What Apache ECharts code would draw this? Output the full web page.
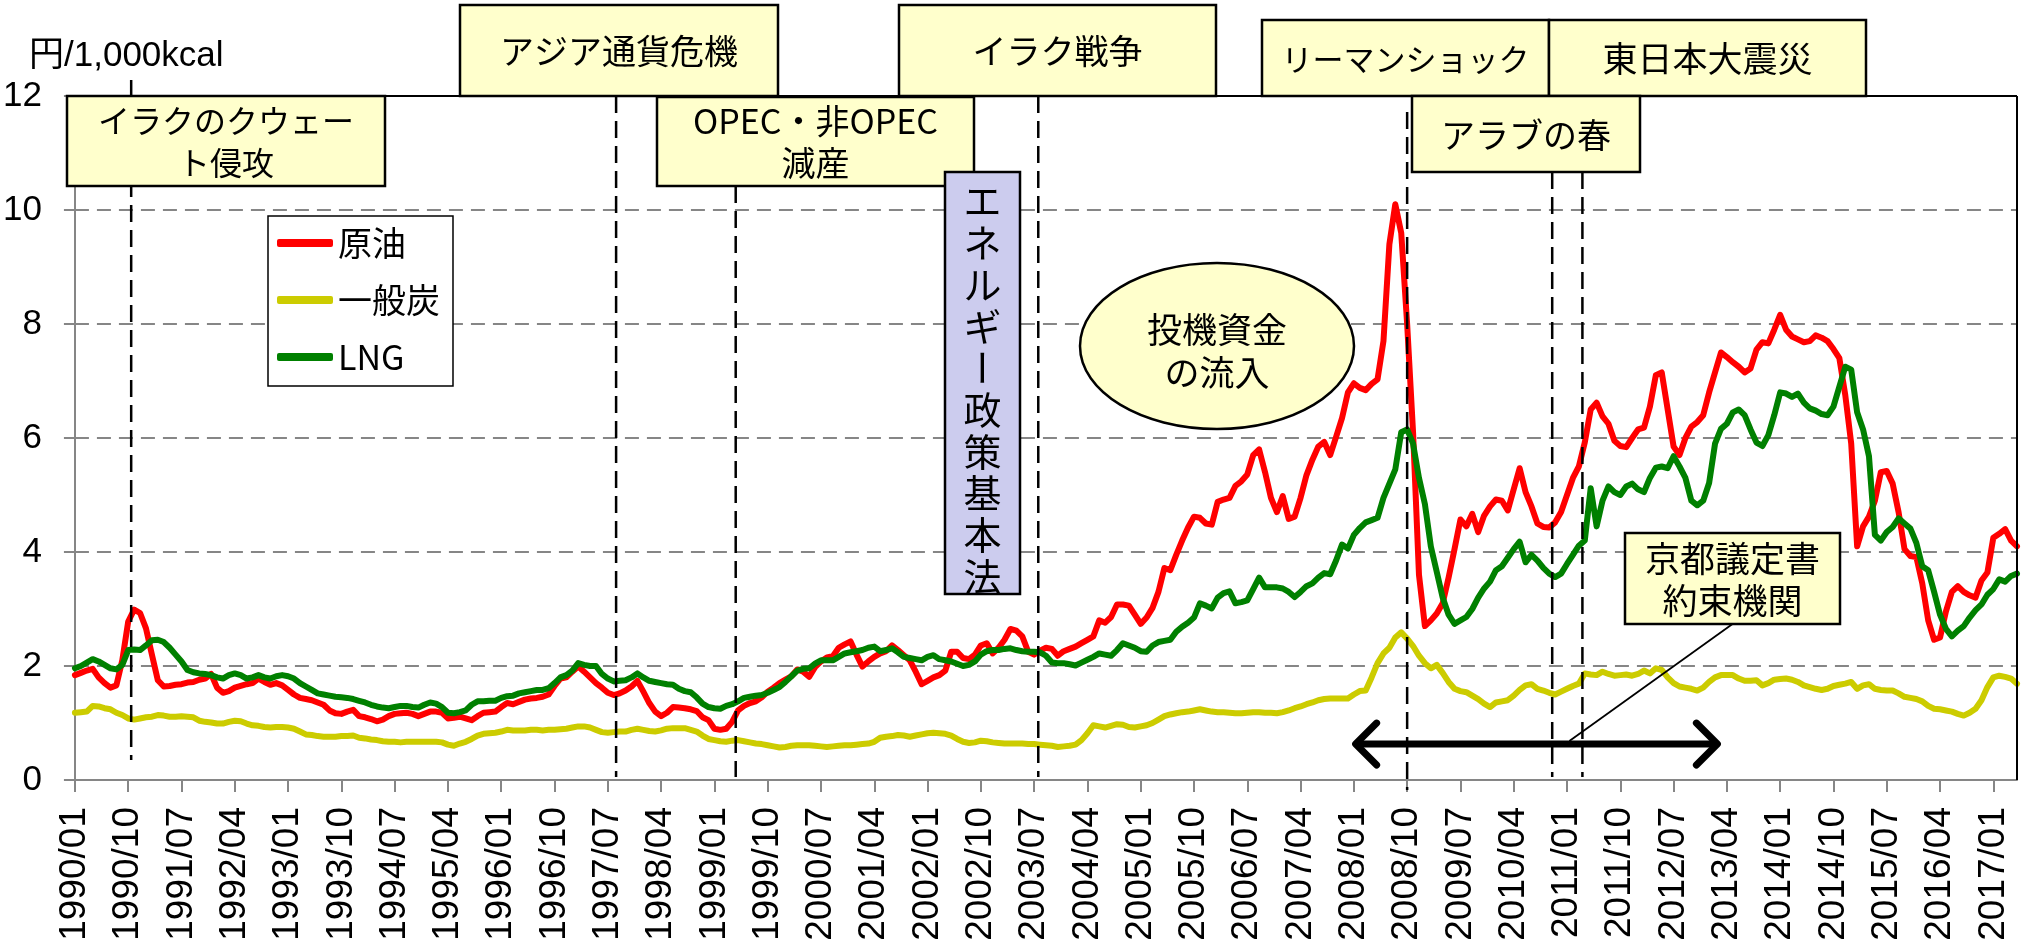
<!DOCTYPE html>
<html><head><meta charset="utf-8">
<script src="https://cdn.jsdelivr.net/npm/echarts@6/dist/echarts.min.js"></script>
<style>html,body{margin:0;padding:0;background:#fff}#c{width:2028px;height:952px}</style>
</head><body><div id="c"></div>
<script>
// ---- categories (monthly, 1990/01 .. 2017/05) ----
const startYear = 1990;
const monthCount = 329;
const months = [];
for (let k = 0; k < monthCount; k++) {
  const y = startYear + Math.floor(k / 12), m = k % 12 + 1;
  months.push(y + '/' + (m < 10 ? '0' + m : '' + m));
}
const seriesNames = ['原油', '一般炭', 'LNG'];
const axisTitle = '円/1,000kcal';
const yMin = 0, yMax = 12, yStep = 2;

// ---- series values (円/1,000kcal) ----
const crude = [
1.84,1.88,1.92,1.95,1.80,1.70,1.62,1.66,2.10,2.78,2.99,2.93,
2.66,2.20,1.75,1.64,1.65,1.67,1.68,1.71,1.72,1.76,1.78,1.86,
1.62,1.53,1.56,1.62,1.65,1.68,1.70,1.78,1.72,1.67,1.70,1.66,
1.58,1.50,1.44,1.42,1.40,1.36,1.32,1.22,1.17,1.16,1.20,1.23,
1.12,1.10,1.07,1.03,1.06,1.12,1.16,1.17,1.18,1.16,1.12,1.16,
1.20,1.20,1.18,1.08,1.09,1.11,1.08,1.05,1.12,1.18,1.19,1.20,
1.28,1.35,1.33,1.37,1.41,1.43,1.44,1.46,1.50,1.65,1.78,1.80,
1.90,1.99,1.90,1.80,1.70,1.62,1.53,1.49,1.52,1.57,1.64,1.74,
1.55,1.35,1.20,1.12,1.18,1.28,1.27,1.26,1.24,1.21,1.10,1.05,
0.90,0.88,0.90,1.02,1.22,1.30,1.35,1.38,1.45,1.55,1.62,1.70,
1.76,1.82,1.94,1.90,1.81,1.98,2.08,2.15,2.17,2.32,2.38,2.43,
2.20,1.99,2.08,2.16,2.22,2.26,2.36,2.28,2.19,2.10,1.90,1.68,
1.74,1.80,1.84,1.92,2.25,2.25,2.14,2.12,2.20,2.36,2.40,2.22,
2.32,2.46,2.65,2.62,2.52,2.25,2.20,2.27,2.32,2.30,2.18,2.26,
2.30,2.34,2.40,2.46,2.52,2.80,2.76,2.86,3.08,3.08,3.06,2.90,
2.74,2.85,3.02,3.30,3.72,3.68,3.95,4.20,4.43,4.62,4.60,4.50,
4.48,4.88,4.92,4.95,5.16,5.24,5.36,5.70,5.80,5.40,4.95,4.70,
4.98,4.58,4.62,4.95,5.35,5.62,5.85,5.93,5.70,6.02,6.35,6.80,
6.96,6.88,6.84,6.95,7.03,7.70,9.40,10.10,9.60,8.00,6.10,3.60,
2.70,2.80,2.92,3.10,3.55,4.05,4.57,4.45,4.67,4.35,4.64,4.80,
4.92,4.90,4.73,5.10,5.47,5.05,4.80,4.50,4.44,4.43,4.52,4.70,
5.00,5.30,5.50,5.92,6.50,6.62,6.38,6.25,5.95,5.86,5.84,6.00,
6.15,6.18,6.55,7.10,7.15,6.50,5.85,5.70,6.00,6.20,6.28,6.40,
6.80,7.15,7.50,7.42,7.33,7.25,7.15,7.22,7.55,7.68,7.66,7.90,
8.16,7.90,7.78,7.73,7.68,7.70,7.80,7.76,7.70,7.56,7.40,6.75,
5.90,4.10,4.45,4.62,4.90,5.40,5.42,5.20,4.70,4.05,3.93,3.91,
3.45,2.80,2.46,2.50,2.96,3.30,3.40,3.30,3.24,3.20,3.50,3.64,
4.25,4.32,4.40,4.20,4.10
];
const coal = [
1.18,1.19,1.20,1.30,1.29,1.26,1.24,1.18,1.14,1.08,1.06,1.08,
1.10,1.11,1.14,1.13,1.11,1.11,1.12,1.11,1.10,1.04,1.02,1.01,
0.99,0.99,1.02,1.04,1.03,0.99,0.96,0.95,0.93,0.92,0.93,0.93,
0.92,0.90,0.85,0.80,0.79,0.77,0.76,0.76,0.76,0.77,0.77,0.78,
0.74,0.73,0.71,0.70,0.68,0.67,0.67,0.66,0.67,0.67,0.67,0.67,
0.67,0.67,0.66,0.62,0.60,0.64,0.67,0.72,0.78,0.81,0.82,0.83,
0.85,0.88,0.87,0.87,0.87,0.88,0.88,0.87,0.88,0.88,0.89,0.90,
0.92,0.94,0.94,0.92,0.88,0.84,0.83,0.84,0.85,0.85,0.88,0.90,
0.88,0.86,0.85,0.87,0.90,0.91,0.91,0.91,0.88,0.85,0.78,0.72,
0.70,0.68,0.67,0.69,0.70,0.68,0.66,0.64,0.63,0.61,0.59,0.57,
0.58,0.60,0.61,0.61,0.61,0.60,0.59,0.58,0.59,0.60,0.61,0.61,
0.62,0.63,0.64,0.67,0.74,0.76,0.77,0.79,0.78,0.76,0.78,0.80,
0.82,0.83,0.82,0.81,0.78,0.72,0.67,0.65,0.66,0.69,0.68,0.66,
0.65,0.64,0.64,0.64,0.64,0.63,0.63,0.62,0.61,0.60,0.58,0.59,
0.60,0.62,0.70,0.82,0.96,0.94,0.92,0.95,0.98,0.97,0.93,0.92,
0.94,0.96,1.00,1.06,1.12,1.15,1.17,1.19,1.20,1.22,1.24,1.22,
1.20,1.19,1.19,1.18,1.17,1.17,1.18,1.19,1.19,1.18,1.18,1.17,
1.19,1.22,1.26,1.29,1.33,1.36,1.40,1.42,1.43,1.43,1.43,1.43,
1.50,1.56,1.57,1.80,2.05,2.22,2.32,2.50,2.59,2.48,2.35,2.18,
2.05,1.96,2.02,1.88,1.72,1.60,1.56,1.54,1.48,1.42,1.34,1.28,
1.36,1.38,1.40,1.48,1.58,1.66,1.68,1.60,1.57,1.53,1.50,1.55,
1.60,1.65,1.69,1.87,1.85,1.84,1.90,1.86,1.83,1.84,1.85,1.83,
1.86,1.92,1.87,1.96,1.93,1.80,1.70,1.64,1.62,1.60,1.57,1.62,
1.72,1.80,1.84,1.84,1.84,1.78,1.74,1.74,1.75,1.66,1.70,1.76,
1.77,1.78,1.76,1.72,1.66,1.63,1.60,1.58,1.60,1.65,1.67,1.69,
1.72,1.60,1.66,1.68,1.60,1.58,1.57,1.57,1.52,1.46,1.44,1.42,
1.38,1.30,1.25,1.24,1.22,1.20,1.16,1.13,1.18,1.25,1.40,1.63,
1.80,1.83,1.81,1.78,1.69
];
const lng = [
1.96,2.00,2.06,2.12,2.08,2.02,1.96,1.94,2.02,2.28,2.29,2.28,
2.36,2.45,2.46,2.42,2.32,2.20,2.08,1.93,1.89,1.87,1.86,1.84,
1.80,1.78,1.84,1.87,1.84,1.78,1.80,1.84,1.80,1.78,1.82,1.84,
1.82,1.78,1.70,1.64,1.58,1.52,1.50,1.48,1.46,1.45,1.44,1.42,
1.39,1.36,1.32,1.29,1.27,1.26,1.28,1.30,1.30,1.28,1.27,1.32,
1.36,1.34,1.28,1.18,1.17,1.19,1.22,1.32,1.38,1.38,1.39,1.39,
1.44,1.47,1.48,1.52,1.54,1.56,1.58,1.58,1.61,1.70,1.80,1.84,
1.92,2.05,2.02,2.00,2.00,1.86,1.78,1.73,1.74,1.75,1.80,1.87,
1.80,1.74,1.72,1.70,1.68,1.67,1.60,1.56,1.54,1.45,1.34,1.28,
1.26,1.25,1.30,1.33,1.38,1.44,1.46,1.48,1.49,1.53,1.58,1.63,
1.72,1.82,1.92,1.95,1.96,2.04,2.10,2.10,2.10,2.16,2.22,2.24,
2.26,2.28,2.32,2.34,2.26,2.28,2.31,2.24,2.16,2.14,2.12,2.10,
2.16,2.19,2.12,2.10,2.08,2.04,2.00,2.02,2.08,2.20,2.26,2.28,
2.28,2.30,2.31,2.28,2.26,2.25,2.25,2.24,2.18,2.06,2.05,2.05,
2.03,2.01,2.06,2.11,2.16,2.22,2.20,2.18,2.28,2.40,2.36,2.32,
2.26,2.25,2.36,2.42,2.44,2.46,2.60,2.69,2.76,2.85,3.10,3.06,
3.01,3.20,3.28,3.31,3.10,3.12,3.15,3.35,3.55,3.38,3.38,3.38,
3.36,3.30,3.21,3.30,3.40,3.45,3.55,3.63,3.61,3.85,4.13,4.06,
4.30,4.42,4.52,4.56,4.60,4.95,5.20,5.45,6.10,6.15,5.90,5.30,
4.84,4.10,3.65,3.20,2.90,2.74,2.80,2.86,3.00,3.20,3.36,3.48,
3.68,3.75,3.90,4.05,4.18,3.82,3.95,3.85,3.72,3.62,3.56,3.62,
3.79,3.95,4.11,4.20,5.12,4.45,4.90,5.15,5.05,5.00,5.15,5.20,
5.10,5.05,5.30,5.48,5.50,5.47,5.68,5.50,5.30,4.90,4.82,4.90,
5.21,5.90,6.16,6.25,6.45,6.50,6.40,6.15,5.92,5.86,6.05,6.40,
6.80,6.78,6.72,6.78,6.62,6.52,6.48,6.42,6.40,6.55,6.90,7.25,
7.20,6.45,6.15,5.68,4.30,4.20,4.35,4.44,4.59,4.50,4.41,4.16,
3.75,3.68,3.30,2.90,2.65,2.52,2.62,2.70,2.85,2.98,3.08,3.25,
3.35,3.52,3.48,3.58,3.62
];

// ---- annotations ----
const eventLines = [ // month index (fractional) + pixel extent
  {idx: 9.5,   top: 80,  bottom: 760},
  {idx: 91.4,  top: 96,  bottom: 777},
  {idx: 111.6, top: 186, bottom: 777},
  {idx: 162.7, top: 96,  bottom: 777},
  {idx: 225,   top: 112, bottom: 790},
  {idx: 249.5, top: 172, bottom: 777},
  {idx: 254.6, top: 172, bottom: 777}
];
const boxes = [
  {text: 'イラクのクウェー\nト侵攻', x: 67,   y: 96,  w: 318, h: 90, size: 32},
  {text: 'アジア通貨危機',           x: 460,  y: 5,   w: 318, h: 91, size: 34},
  {text: 'OPEC・非OPEC\n減産',       x: 657,  y: 97,  w: 317, h: 89, size: 34},
  {text: 'イラク戦争',               x: 899,  y: 5,   w: 317, h: 91, size: 34},
  {text: 'リーマンショック',         x: 1262, y: 20,  w: 287, h: 76, size: 31},
  {text: '東日本大震災',             x: 1549, y: 20,  w: 317, h: 76, size: 35},
  {text: 'アラブの春',               x: 1412, y: 96,  w: 228, h: 76, size: 34},
  {text: '京都議定書\n約束機関',     x: 1625, y: 533, w: 215, h: 91, size: 35}
];
const verticalLabel = 'エネルギー政策基本法';
const ellipseLabel = '投機資金\nの流入';
const kyoto = {fromIdx: 216.3, toIdx: 277.4, value: 0.63, calloutIdx: 252.4};

const FONT = '"Liberation Sans", Arial, "Noto Sans CJK JP", sans-serif';
const JFONT = '"Noto Sans CJK JP", "Liberation Sans", sans-serif';
const GRAY = '#868686';

const chart = echarts.init(document.getElementById('c'), null, {renderer: 'canvas'});
const colors = ['#ff0000', '#cccc00', '#008000'];
const data = [crude, coal, lng];

chart.setOption({
  animation: false,
  backgroundColor: '#fff',
  grid: {left: 71, right: 11, top: 96, bottom: 172, show: false},
  legend: {
    orient: 'vertical', left: 268, top: 216,
    padding: [9, 13, 11, 9], itemGap: 21, itemWidth: 56, itemHeight: 8,
    icon: 'roundRect',
    borderColor: '#000', borderWidth: 1.5, backgroundColor: '#fff',
    textStyle: {fontSize: 34, fontFamily: JFONT, color: '#000', lineHeight: 36},
    data: seriesNames
  },
  xAxis: {
    type: 'category', data: months, boundaryGap: false,
    axisLine: {lineStyle: {color: GRAY, width: 2}},
    axisTick: {interval: 8, length: 12, lineStyle: {color: GRAY, width: 2}},
    axisLabel: {interval: 8, rotate: 90, fontSize: 37, margin: 27, color: '#000',
                fontFamily: FONT},
    splitLine: {show: false}
  },
  yAxis: {
    type: 'value', min: yMin, max: yMax, interval: yStep,
    axisLine: {show: true, lineStyle: {color: GRAY, width: 2}},
    axisTick: {show: true, length: 11, lineStyle: {color: GRAY, width: 2}},
    axisLabel: {fontSize: 35, margin: 33, color: '#000', fontFamily: FONT},
    splitLine: {lineStyle: {type: [14, 8], color: GRAY, width: 2}}
  },
  series: seriesNames.map((n, k) => ({
    name: n, type: 'line', data: data[k], showSymbol: false, symbol: 'none',
    color: colors[k],
    lineStyle: {color: colors[k], width: 6, cap: 'round', join: 'round'},
    z: 2 + k
  }))
});

function xAt(idx) {
  const a = Math.floor(idx), f = idx - a;
  const p0 = chart.convertToPixel({xAxisIndex: 0}, months[a]);
  const p1 = chart.convertToPixel({xAxisIndex: 0}, months[Math.min(a + 1, months.length - 1)]);
  return p0 + (p1 - p0) * f;
}
function yAt(v) { return chart.convertToPixel({yAxisIndex: 0}, v); }

const g = [];
const xL = xAt(0), xR = xAt(months.length - 1), yTop = yAt(yMax), yBot = yAt(yMin);
// plot border (top, right)
g.push({type: 'line', z: 40, shape: {x1: xL, y1: yTop, x2: xR, y2: yTop}, style: {stroke: '#000', lineWidth: 2}});
g.push({type: 'line', z: 40, shape: {x1: xR, y1: yTop, x2: xR, y2: yBot}, style: {stroke: '#000', lineWidth: 2}});
// axis title
g.push({type: 'text', z: 60, x: 29, y: 56, style: {text: axisTitle, font: '35px ' + FONT, fill: '#000', align: 'left', verticalAlign: 'middle'}});
// event lines
eventLines.forEach(e => {
  const x = xAt(e.idx);
  g.push({type: 'line', z: 50, shape: {x1: x, y1: e.top, x2: x, y2: e.bottom},
          style: {stroke: '#000', lineWidth: 2.5, lineDash: [17, 8]}});
});
// text boxes
boxes.forEach(b => {
  g.push({type: 'rect', z: 60, shape: {x: b.x, y: b.y, width: b.w, height: b.h},
          style: {fill: '#ffffcc', stroke: '#000', lineWidth: 2.5}});
  g.push({type: 'text', z: 61, x: b.x + b.w / 2, y: b.y + b.h / 2 + 1,
          style: {text: b.text, font: b.size + 'px ' + JFONT, fill: '#000', align: 'center', verticalAlign: 'middle', lineHeight: 42}});
});
// vertical energy-policy box
g.push({type: 'rect', z: 60, shape: {x: 945, y: 172, width: 75, height: 422},
        style: {fill: '#ccccee', stroke: '#000', lineWidth: 2.5}});
Array.from(verticalLabel).forEach((ch, k) => {
  g.push({type: 'text', z: 61, x: 982.5, y: 201 + k * 41.7, rotation: ch === 'ー' ? -Math.PI / 2 : 0,
          style: {text: ch, font: '38px ' + JFONT, fill: '#000', align: 'center', verticalAlign: 'middle'}});
});
// ellipse
g.push({type: 'ellipse', z: 60, shape: {cx: 1217, cy: 346, rx: 137, ry: 83},
        style: {fill: '#ffffcc', stroke: '#000', lineWidth: 2.5}});
g.push({type: 'text', z: 61, x: 1217, y: 351,
        style: {text: ellipseLabel, font: '35px ' + JFONT, fill: '#000', align: 'center', verticalAlign: 'middle', lineHeight: 43}});
// Kyoto double arrow
const ax1 = xAt(kyoto.fromIdx), ax2 = xAt(kyoto.toIdx), ay = yAt(kyoto.value);
g.push({type: 'line', z: 55, shape: {x1: ax1 + 2, y1: ay, x2: ax2 - 2, y2: ay}, style: {stroke: '#000', lineWidth: 7}});
g.push({type: 'polyline', z: 55, shape: {points: [[ax1 + 21, ay - 21], [ax1, ay], [ax1 + 21, ay + 21]]},
        style: {stroke: '#000', lineWidth: 7, lineCap: 'round', lineJoin: 'round', fill: null}});
g.push({type: 'polyline', z: 55, shape: {points: [[ax2 - 21, ay - 21], [ax2, ay], [ax2 - 21, ay + 21]]},
        style: {stroke: '#000', lineWidth: 7, lineCap: 'round', lineJoin: 'round', fill: null}});
const kb = boxes[boxes.length - 1];
g.push({type: 'line', z: 55, shape: {x1: kb.x + kb.w / 2, y1: kb.y + kb.h, x2: xAt(kyoto.calloutIdx), y2: ay - 3},
        style: {stroke: '#000', lineWidth: 1.8}});

chart.setOption({graphic: {elements: g}});
</script>
</body></html>
